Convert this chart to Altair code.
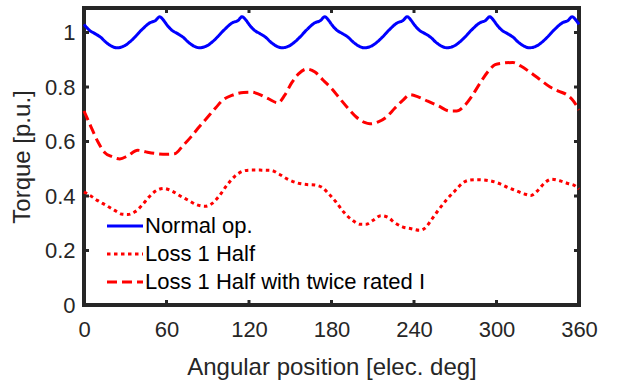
import altair as alt
import pandas as pd

# Torque ripple over one electrical revolution
series_names = ["Normal op.", "Loss 1 Half", "Loss 1 Half with twice rated I"]
series_colors = ["#0000ff", "#ff0000", "#ff0000"]
series_dash = [[1, 0], [3.5, 3.5], [10, 5]]

normal_deg = [
    0, 4, 8, 12, 16, 20, 24, 30, 36, 42, 48, 52, 55, 58,
    60, 64, 68, 72, 76, 80, 84, 90, 96, 102, 108, 112, 115, 118,
    120, 124, 128, 132, 136, 140, 144, 150, 156, 162, 168, 172, 175, 178,
    180, 184, 188, 192, 196, 200, 204, 210, 216, 222, 228, 232, 235, 238,
    240, 244, 248, 252, 256, 260, 264, 270, 276, 282, 288, 292, 295, 298,
    300, 304, 308, 312, 316, 320, 324, 330, 336, 342, 348, 352, 355, 358,
    360,
]
normal_torque = [
    1.030, 1.008, 0.996, 0.983, 0.964, 0.950, 0.944, 0.953, 0.978, 1.010, 1.036, 1.044, 1.058, 1.044,
    1.030, 1.008, 0.996, 0.983, 0.964, 0.950, 0.944, 0.953, 0.978, 1.010, 1.036, 1.044, 1.058, 1.044,
    1.030, 1.008, 0.996, 0.983, 0.964, 0.950, 0.944, 0.953, 0.978, 1.010, 1.036, 1.044, 1.058, 1.044,
    1.030, 1.008, 0.996, 0.983, 0.964, 0.950, 0.944, 0.953, 0.978, 1.010, 1.036, 1.044, 1.058, 1.044,
    1.030, 1.008, 0.996, 0.983, 0.964, 0.950, 0.944, 0.953, 0.978, 1.010, 1.036, 1.044, 1.058, 1.044,
    1.030, 1.008, 0.996, 0.983, 0.964, 0.950, 0.944, 0.953, 0.978, 1.010, 1.036, 1.044, 1.058, 1.044,
    1.030,
]

half_deg = [
    0, 5, 10, 16, 22, 28, 32, 37, 42, 47, 52, 58, 64, 70, 76, 82, 88, 93, 98,
    104, 110, 115, 120, 128, 136, 142, 148, 155, 162, 168, 173, 178, 183, 189,
    195, 201, 205, 210, 216, 221, 226, 232, 238, 244, 248, 253, 258, 264, 270,
    275, 280, 287, 295, 302, 308, 314, 320, 325, 330, 335, 340, 346, 352, 357,
    360,
]
half_torque = [
    0.415, 0.400, 0.383, 0.366, 0.348, 0.333, 0.332, 0.342, 0.365, 0.395, 0.418,
    0.428, 0.418, 0.400, 0.384, 0.368, 0.362, 0.372, 0.398, 0.440, 0.474, 0.490,
    0.495, 0.495, 0.494, 0.480, 0.462, 0.448, 0.442, 0.440, 0.432, 0.408, 0.380,
    0.340, 0.312, 0.296, 0.296, 0.310, 0.328, 0.322, 0.302, 0.286, 0.280, 0.274,
    0.282, 0.315, 0.350, 0.388, 0.420, 0.446, 0.458, 0.460, 0.456, 0.446, 0.432,
    0.420, 0.408, 0.402, 0.420, 0.448, 0.462, 0.456, 0.446, 0.438, 0.425,
]

twice_deg = [
    0, 5, 10, 15, 20, 26, 32, 39, 45, 52, 60, 66, 72, 78, 84, 90, 96, 101, 108,
    116, 122, 127, 134, 141, 146, 151, 156, 162, 168, 174, 180, 186, 192, 198,
    204, 208, 214, 220, 226, 232, 237, 243, 250, 258, 266, 271, 276, 282, 288,
    294, 299, 305, 312, 318, 325, 332, 339, 345, 351, 356, 360,
]
twice_torque = [
    0.712, 0.655, 0.600, 0.560, 0.545, 0.536, 0.548, 0.568, 0.562, 0.556, 0.553,
    0.555, 0.585, 0.618, 0.655, 0.690, 0.725, 0.752, 0.770, 0.780, 0.781, 0.774,
    0.757, 0.742, 0.770, 0.815, 0.848, 0.866, 0.855, 0.825, 0.795, 0.758, 0.722,
    0.690, 0.670, 0.665, 0.672, 0.690, 0.722, 0.752, 0.772, 0.764, 0.748, 0.730,
    0.712, 0.712, 0.728, 0.766, 0.814, 0.858, 0.882, 0.888, 0.890, 0.876, 0.852,
    0.826, 0.800, 0.785, 0.772, 0.748, 0.716,
]

x_ticks = [0, 60, 120, 180, 240, 300, 360]
y_ticks = [0, 0.2, 0.4, 0.6, 0.8, 1]

W, H = 495, 297
FONT = "Liberation Sans"
LABEL_FS = 22
TITLE_FS = 24
INK = "#262626"
TICK_LEN = 5

rows = []
for name, xs, ys in [
    (series_names[0], normal_deg, normal_torque),
    (series_names[1], half_deg, half_torque),
    (series_names[2], twice_deg, twice_torque),
]:
    for i, (a, t) in enumerate(zip(xs, ys)):
        rows.append({"angle": a, "torque": t, "series": name, "order": i})
df = pd.DataFrame(rows)

x_scale = alt.Scale(domain=[0, 360], nice=False, zero=False)
y_scale = alt.Scale(domain=[0, 1.09], nice=False, zero=False)

x_axis = alt.Axis(
    values=x_ticks, title="Angular position [elec. deg]", grid=False,
    domain=False, ticks=False, tickSize=0, labelFlush=False, labelOverlap=False,
    labelPadding=14, titlePadding=15,
)
y_axis = alt.Axis(
    values=y_ticks, format=".1~f", title="Torque [p.u.]", grid=False,
    domain=False, ticks=False, tickSize=0, labelFlush=False, labelOverlap=False,
    labelPadding=9, titlePadding=10,
)

lines = alt.Chart(df).mark_line(strokeWidth=3, interpolate="monotone").encode(
    x=alt.X("angle:Q", scale=x_scale, axis=x_axis),
    y=alt.Y("torque:Q", scale=y_scale, axis=y_axis),
    order="order:Q",
    color=alt.Color(
        "series:N",
        scale=alt.Scale(domain=series_names, range=series_colors),
        legend=alt.Legend(
            title=None, orient="none", legendX=30, legendY=207,
            symbolType="M-2,0L2,0", symbolSize=324, symbolStrokeWidth=3,
            labelFontSize=LABEL_FS, labelFont=FONT, labelColor="#000000",
            labelOffset=9, rowPadding=6, padding=0, labelLimit=0,
        ),
    ),
    strokeDash=alt.StrokeDash(
        "series:N",
        scale=alt.Scale(domain=series_names, range=series_dash),
        legend=None,
    ),
)

xt = pd.DataFrame({"t": x_ticks})
yt = pd.DataFrame({"v": y_ticks})

tick_style = dict(color=INK, strokeWidth=3)
bottom_ticks = alt.Chart(xt).mark_rule(**tick_style).encode(
    x=alt.X("t:Q", scale=x_scale), y=alt.value(H), y2=alt.value(H - TICK_LEN)
)
top_ticks = alt.Chart(xt).mark_rule(**tick_style).encode(
    x=alt.X("t:Q", scale=x_scale), y=alt.value(0), y2=alt.value(TICK_LEN)
)
left_ticks = alt.Chart(yt).mark_rule(**tick_style).encode(
    y=alt.Y("v:Q", scale=y_scale), x=alt.value(0), x2=alt.value(TICK_LEN)
)
right_ticks = alt.Chart(yt).mark_rule(**tick_style).encode(
    y=alt.Y("v:Q", scale=y_scale), x=alt.value(W), x2=alt.value(W - TICK_LEN)
)

chart = (
    alt.layer(lines, bottom_ticks, top_ticks, left_ticks, right_ticks)
    .properties(
        width=W, height=H,
        autosize=alt.AutoSizeParams(type="none"),
        padding={"left": 84, "top": 8, "right": 39, "bottom": 77},
        background="#ffffff",
    )
    .configure_view(stroke=INK, strokeWidth=4)
    .configure_axis(
        labelFont=FONT, labelFontSize=LABEL_FS, labelColor=INK,
        titleFont=FONT, titleFontSize=TITLE_FS, titleColor=INK, titleFontWeight="normal",
    )
)

chart.save("out.html", embed_options={"renderer": "svg", "actions": False})
